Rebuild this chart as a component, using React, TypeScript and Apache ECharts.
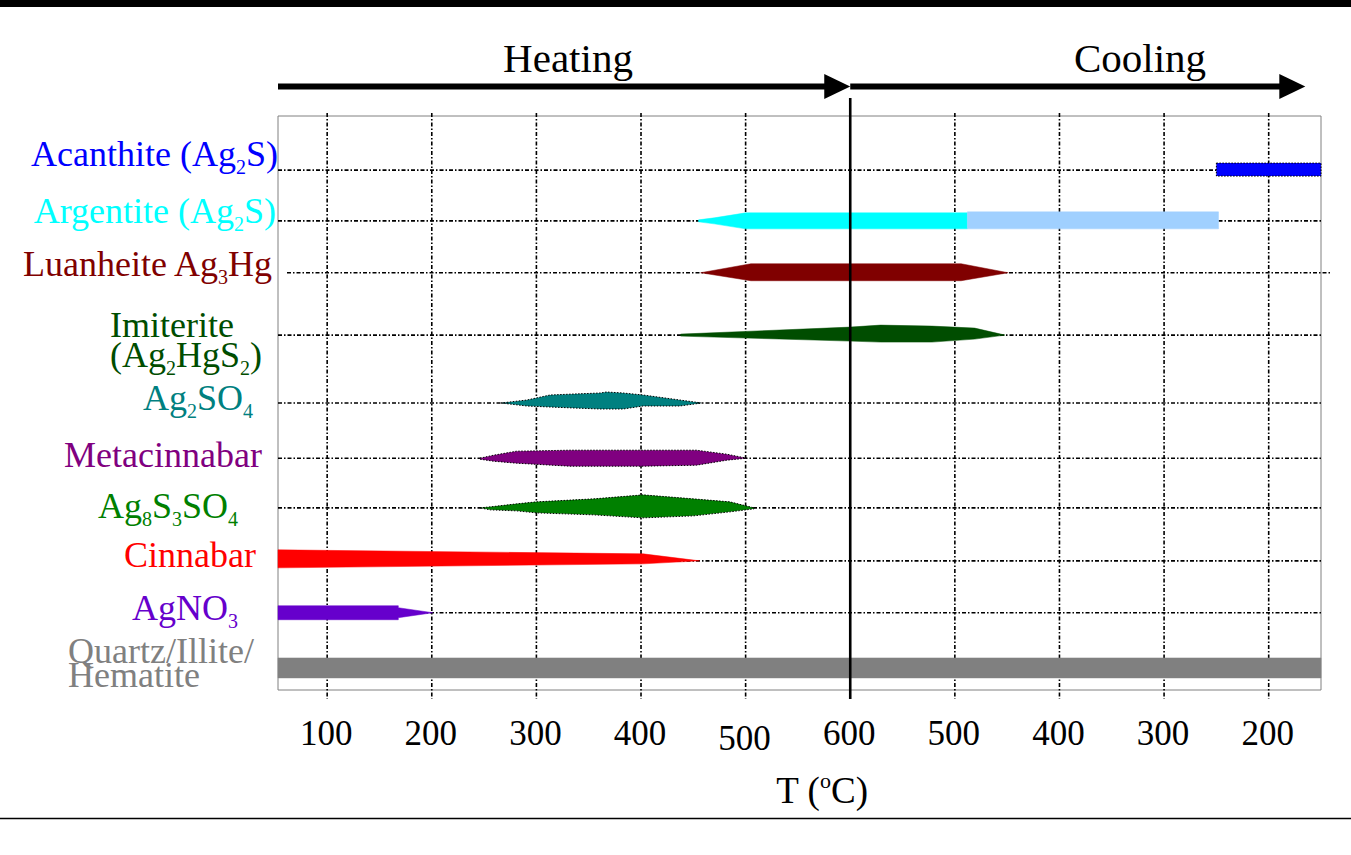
import { useEffect, useRef } from 'react';
import * as echarts from 'echarts';

// Process axis: the heating leg uses T directly, the cooling leg maps T -> 1200 - T
const h = (t: number) => t;
const c = (t: number) => 1200 - t;

const X_MIN = 53;
const X_MAX = 1050;

const TICK_POSITIONS = [h(100), h(200), h(300), h(400), h(500), h(600), c(500), c(400), c(300), c(200)];
const TICK_LABELS = ['100', '200', '300', '400', '500', '600', '500', '400', '300', '200'];

const PHASE_LABELS = [
  'Acanthite (Ag{s|2}S)',
  'Argentite (Ag{s|2}S)',
  'Luanheite Ag{s|3}Hg',
  'Imiterite\n(Ag{s|2}HgS{s|2})',
  'Ag{s|2}SO{s|4}',
  'Metacinnabar',
  'Ag{s|8}S{s|3}SO{s|4}',
  'Cinnabar',
  'AgNO{s|3}',
  'Quartz/Illite/\nHematite',
];

const PHASE_COLORS = [
  '#0000ff', '#00ffff', '#800000', '#004d00', '#008080',
  '#800080', '#008000', '#ff0000', '#6600cc', '#808080',
];

// Phase bands: [process position, thickness above the row line, thickness below]
const acanthite = [[c(250), 7, 6], [c(150), 7, 6]];
const argentiteHeating = [[h(455), 1, 1], [h(470), 3, 3], [h(500), 8, 8], [c(488), 8, 8]];
const argentiteCooling = [[c(488), 9, 8], [c(248), 9, 8]];
const luanheite = [[h(457), 0, 0], [h(505), 9, 8], [c(494), 9, 8], [c(449), 0, 0]];
const imiterite = [[h(438), 1, 1], [h(600), 8, 6], [c(571), 10, 7], [c(522), 9, 7], [c(481), 7, 4], [c(452), 0, 0]];
const ag2so4 = [[h(266), 0, 0], [h(291), 3, 3], [h(313), 8, 4], [h(336), 9, 5], [h(361), 10, 6], [h(367), 11, 6], [h(383), 10, 6], [h(402), 8, 3], [h(437), 3, 3], [h(458), 0, 0]];
const metacinnabar = [[h(246), 0, 1], [h(259), 3, 3], [h(281), 7, 5], [h(332), 8, 8], [h(402), 8, 8], [h(453), 8, 7], [h(482), 4, 2], [h(501), 0, 0]];
const ag8s3so4 = [[h(246), 0, 0], [h(256), 1, 2], [h(281), 4, 3], [h(300), 6, 5], [h(355), 9, 7], [h(402), 13, 10], [h(450), 9, 8], [h(485), 6, 4], [h(508), 0, 1]];
const cinnabar = [[h(53), 11, 7], [h(402), 7, 3], [h(456), 0, 0]];
const agno3 = [[h(53), 7, 7], [h(168), 7, 7], [h(168), 5, 5], [h(201), 0, 0]];
const quartz = [[h(53), 10, 10], [c(150), 10, 10]];

// Heating / cooling arrows along the process axis
const ARROWS = [[X_MIN, h(600)], [h(600), c(165)]];

const BANDS = [
  { row: 0, pts: acanthite, color: PHASE_COLORS[0], dotted: true },
  { row: 1, pts: argentiteHeating, color: PHASE_COLORS[1], dotted: false },
  { row: 1, pts: argentiteCooling, color: '#a0d0ff', dotted: false },
  { row: 2, pts: luanheite, color: PHASE_COLORS[2], dotted: false },
  { row: 3, pts: imiterite, color: PHASE_COLORS[3], dotted: false },
  { row: 4, pts: ag2so4, color: PHASE_COLORS[4], dotted: true },
  { row: 5, pts: metacinnabar, color: PHASE_COLORS[5], dotted: true },
  { row: 6, pts: ag8s3so4, color: PHASE_COLORS[6], dotted: true },
  { row: 7, pts: cinnabar, color: PHASE_COLORS[7], dotted: false },
  { row: 8, pts: agno3, color: PHASE_COLORS[8], dotted: false },
  { row: 9, pts: quartz, color: PHASE_COLORS[9], dotted: false },
];

// Layout
const SERIF = '"Liberation Serif", "Times New Roman", Times, serif';
const Y_MAX = 10.4;
const ROW_LEVEL = [0.98, 1.9, 2.84, 3.97, 5.2, 6.2, 7.1, 8.06, 9.0, 10.0];
const THICK = 1 / 55.19; // y units per thickness unit
const LABEL_LAYOUT = [
  { dx: 0, dy: -16, align: 'right', lh: 30 },
  { dx: -2, dy: -10, align: 'right', lh: 30 },
  { dx: -6, dy: -9, align: 'right', lh: 30 },
  { dx: -168, dy: 5, align: 'left', lh: 30 },
  { dx: -25, dy: -5, align: 'right', lh: 30 },
  { dx: -16, dy: -3, align: 'right', lh: 30 },
  { dx: -40, dy: -2, align: 'right', lh: 30 },
  { dx: -22, dy: -6, align: 'right', lh: 30 },
  { dx: -40, dy: -5, align: 'right', lh: 30 },
  { dx: -210, dy: -5, align: 'left', lh: 24 },
];
const ROW_LINE_EXTENT = [[0, 0], [0, 0], [9, 9], [0, 0], [0, 0], [0, 0], [0, 0], [0, 0], [0, 0], [0, 0]];
const TICK_LABEL_DY = [0, 0, 0, 0, 5, 0, 0, 0, 0, 0];
const DOT_DASH = [4, 2, 1.5, 2];

export default function App() {
  const ref = useRef<HTMLDivElement>(null);

  useEffect(() => {
    if (!ref.current) return;
    const chart = echarts.init(ref.current, undefined, { renderer: 'svg' });

    const option: any = {
      animation: false,
      backgroundColor: '#ffffff',
      grid: {
        left: 278, right: 30, top: 116, bottom: 165,
        show: true, borderColor: '#808080', borderWidth: 1, backgroundColor: 'transparent',
      },
      xAxis: { type: 'value', min: X_MIN, max: X_MAX, show: false },
      yAxis: { type: 'value', min: 0, max: Y_MAX, inverse: true, show: false },
      graphic: [
        { type: 'rect', shape: { x: 0, y: 0, width: 1351, height: 7 }, style: { fill: '#000' } },
        { type: 'line', shape: { x1: 0, y1: 818.5, x2: 1351, y2: 818.5 }, style: { stroke: '#000', lineWidth: 1.5 } },
        {
          type: 'text', x: 568, y: 58,
          style: { text: 'Heating', fontSize: 41, fontFamily: SERIF, fill: '#000', align: 'center', verticalAlign: 'middle', textAlign: 'center', textVerticalAlign: 'middle' },
        },
        {
          type: 'text', x: 1140, y: 58,
          style: { text: 'Cooling', fontSize: 41, fontFamily: SERIF, fill: '#000', align: 'center', verticalAlign: 'middle', textAlign: 'center', textVerticalAlign: 'middle' },
        },
        {
          type: 'text', x: 822, y: 790,
          style: {
            text: 'T ({o|o}C)', fontSize: 37, fontFamily: SERIF, fill: '#000', lineHeight: 40,
            align: 'center', verticalAlign: 'middle', textAlign: 'center', textVerticalAlign: 'middle',
            rich: { o: { fontSize: 22, fontFamily: SERIF, fill: '#000', height: 20, lineHeight: 20, verticalAlign: 'top' } },
          },
        },
      ],
      series: [
        // horizontal row lines
        {
          type: 'custom', coordinateSystem: 'cartesian2d', clip: false, z: 1, silent: true,
          data: ROW_LEVEL.map((l) => [X_MIN, l]),
          renderItem: (params: any, api: any) => {
            const i = params.dataIndex;
            const cs = params.coordSys;
            const y = api.coord([X_MIN, ROW_LEVEL[i]])[1];
            const [a, b] = ROW_LINE_EXTENT[i];
            return {
              type: 'line',
              shape: { x1: cs.x + a, y1: y, x2: cs.x + cs.width + b, y2: y },
              style: { stroke: '#000', lineWidth: 1.6, lineDash: DOT_DASH },
            };
          },
        },
        // vertical temperature lines and their labels
        {
          type: 'custom', coordinateSystem: 'cartesian2d', clip: false, z: 1, silent: true,
          data: TICK_POSITIONS.map((p) => [p, 0]),
          renderItem: (params: any, api: any) => {
            const i = params.dataIndex;
            const cs = params.coordSys;
            const x = api.coord([TICK_POSITIONS[i], 0])[0];
            const bottom = cs.y + cs.height;
            const children: any[] = [
              {
                type: 'text',
                style: {
                  text: TICK_LABELS[i], x: x - 1, y: bottom + 43 + TICK_LABEL_DY[i],
                  fontSize: 35, fontFamily: SERIF, fill: '#000', align: 'center', verticalAlign: 'middle',
                },
              },
            ];
            if (TICK_POSITIONS[i] !== h(600)) {
              children.push({
                type: 'line',
                shape: { x1: x, y1: cs.y - 3, x2: x, y2: bottom + 9 },
                style: { stroke: '#000', lineWidth: 1.6, lineDash: DOT_DASH },
              });
            }
            return { type: 'group', children };
          },
        },
        // phase bands
        {
          type: 'custom', coordinateSystem: 'cartesian2d', clip: false, z: 2, silent: true,
          data: BANDS.map((b) => [b.pts[0][0], ROW_LEVEL[b.row]]),
          renderItem: (params: any, api: any) => {
            const band = BANDS[params.dataIndex];
            const level = ROW_LEVEL[band.row];
            const unit = Math.abs(api.size([0, 1])[1]) * THICK;
            const top: number[][] = [];
            const bot: number[][] = [];
            band.pts.forEach(([u, up, dn]) => {
              const [x, y] = api.coord([u, level]);
              top.push([x, y - up * unit]);
              bot.unshift([x, y + dn * unit]);
            });
            return {
              type: 'polygon',
              shape: { points: top.concat(bot) },
              style: band.dotted
                ? { fill: band.color, stroke: '#000', lineWidth: 1, lineDash: [1.5, 1.5] }
                : { fill: band.color, stroke: band.color, lineWidth: 0.5 },
            };
          },
        },
        // 600 °C turning point
        {
          type: 'custom', coordinateSystem: 'cartesian2d', clip: false, z: 3, silent: true,
          data: [[h(600), 0]],
          renderItem: (params: any, api: any) => {
            const cs = params.coordSys;
            const x = api.coord([h(600), 0])[0];
            return {
              type: 'line',
              shape: { x1: x, y1: cs.y - 18, x2: x, y2: cs.y + cs.height + 9 },
              style: { stroke: '#000', lineWidth: 2.6 },
            };
          },
        },
        // heating and cooling arrows
        {
          type: 'custom', coordinateSystem: 'cartesian2d', clip: false, z: 3, silent: true,
          data: ARROWS,
          renderItem: (params: any, api: any) => {
            const cs = params.coordSys;
            const [from, to] = ARROWS[params.dataIndex];
            const x0 = api.coord([from, 0])[0];
            const x1 = api.coord([to, 0])[0];
            const y = cs.y - 29.5;
            const head = 26;
            return {
              type: 'group',
              children: [
                { type: 'rect', shape: { x: x0, y: y - 3, width: x1 - head - x0 + 1, height: 6 }, style: { fill: '#000' } },
                { type: 'polygon', shape: { points: [[x1 - head, y - 12.5], [x1, y], [x1 - head, y + 12.5]] }, style: { fill: '#000' } },
              ],
            };
          },
        },
        // phase names
        {
          type: 'custom', coordinateSystem: 'cartesian2d', clip: false, z: 4, silent: true,
          data: ROW_LEVEL.map((l) => [X_MIN, l]),
          renderItem: (params: any, api: any) => {
            const i = params.dataIndex;
            const cs = params.coordSys;
            const y = api.coord([X_MIN, ROW_LEVEL[i]])[1];
            const L = LABEL_LAYOUT[i];
            return {
              type: 'text',
              style: {
                text: PHASE_LABELS[i], x: cs.x + L.dx, y: y + L.dy,
                align: L.align, verticalAlign: 'middle',
                fill: PHASE_COLORS[i], fontSize: 36, fontFamily: SERIF, lineHeight: L.lh,
                rich: {
                  s: { fontSize: 20, fontFamily: SERIF, fill: PHASE_COLORS[i], height: 4, lineHeight: 4, verticalAlign: 'bottom' },
                },
              },
            };
          },
        },
      ],
    };

    chart.setOption(option);
    return () => chart.dispose();
  }, []);

  return (
    <div
      ref={ref}
      style={{ position: 'absolute', left: 0, top: 0, width: 1351, height: 855, background: '#fff' }}
    />
  );
}
